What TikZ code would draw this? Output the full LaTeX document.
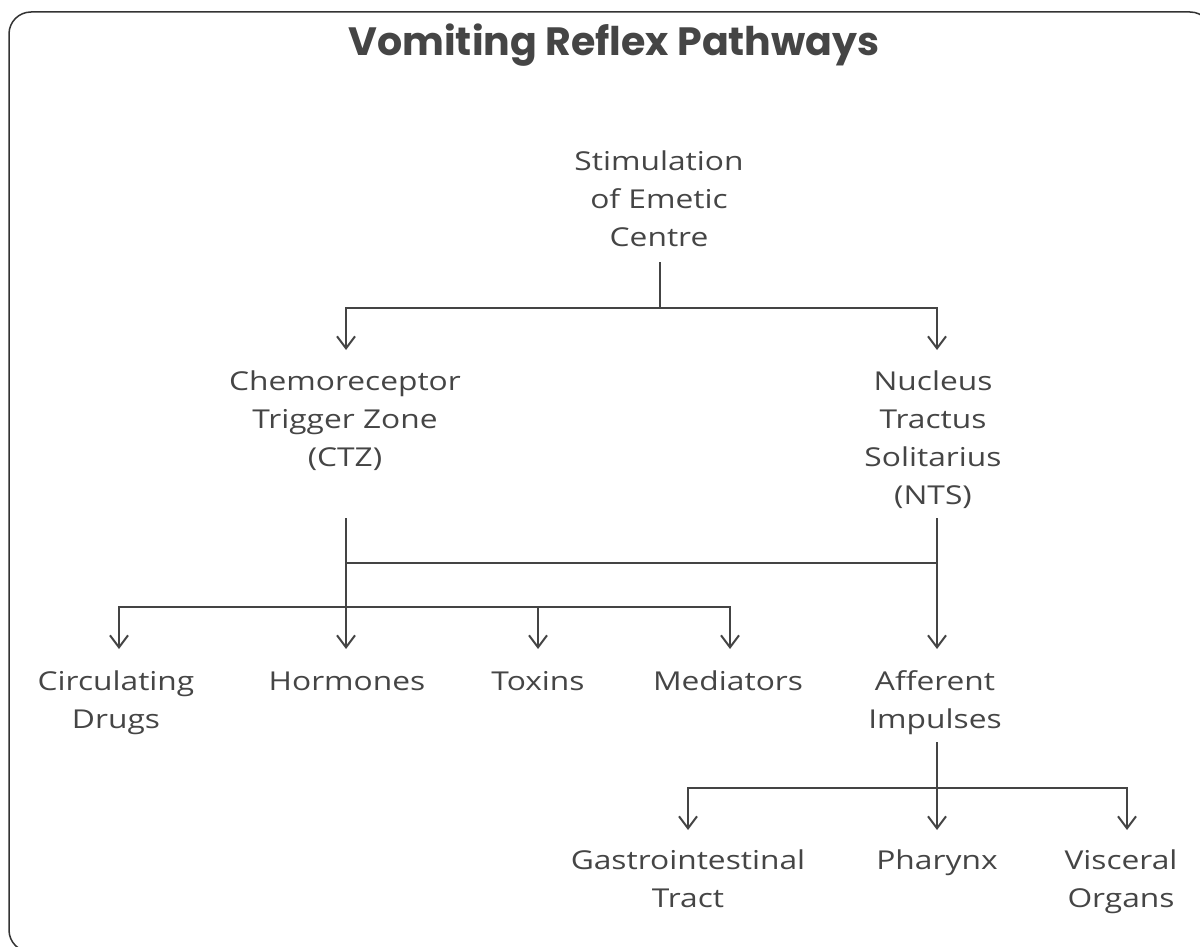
\documentclass[tikz,border=0pt]{standalone}
\usepackage{fontspec}
\setmainfont{Open Sans}[FakeStretch=1.22]
\newfontfamily\titlefont{Poppins}[BoldFont={* Bold}]
\usetikzlibrary{arrows.meta}
\definecolor{ink}{HTML}{454545}
\definecolor{edge}{HTML}{444444}
\newcommand{\lstrut}{\rule{0pt}{27pt}}
\tikzset{
  lbl/.style={anchor=north, align=center, inner sep=0pt, text=ink,
    font=\fontsize{26}{38}\selectfont},
  conn/.style={draw=edge, line width=2pt},
  arr/.style={conn, -{Straight Barb[length=12pt,width=18pt,line width=2pt]}},
}
\begin{document}
\begin{tikzpicture}[x=1pt,y=-1pt]
\useasboundingbox (0,0) rectangle (1200,947);
\clip (0,0) rectangle (1200,947);
\draw[draw=black!80, line width=1.5pt, rounded corners=22pt] (9,12) rectangle (1212,952);

\node[anchor=base, inner sep=0pt, text=ink, font=\titlefont\bfseries\fontsize{39.5}{44}\selectfont] (title) at (614,56) {Vomiting Reflex Pathways};

\node[lbl] (stim) at (659,143) {\lstrut Stimulation\\of Emetic\\Centre};
\node[lbl] (ctz) at (345,363) {\lstrut Chemoreceptor\\Trigger Zone\\(CTZ)};
\node[lbl] (nts) at (933,363) {\lstrut Nucleus\\Tractus\\Solitarius\\(NTS)};
\node[lbl] (circ) at (116,663) {\lstrut Circulating\\Drugs};
\node[lbl] (horm) at (347,663) {\lstrut Hormones};
\node[lbl] (tox) at (538,663) {\lstrut Toxins};
\node[lbl] (med) at (728,663) {\lstrut Mediators};
\node[lbl] (aff) at (935,663) {\lstrut Afferent\\Impulses};
\node[lbl] (gi) at (688,842) {\lstrut Gastrointestinal\\Tract};
\node[lbl] (phar) at (937,842) {\lstrut Pharynx};
\node[lbl] (visc) at (1121,842) {\lstrut Visceral\\Organs};

% connection points
\coordinate (stimB) at (660,262);
\coordinate (ctzT) at (346,350);
\coordinate (ntsT) at (937,350);
\coordinate (ctzB) at (346,518);
\coordinate (ntsB) at (937,518);
\coordinate (circT) at (119,649);
\coordinate (hormT) at (346,649);
\coordinate (toxT) at (538,649);
\coordinate (medT) at (730,649);
\coordinate (affT) at (937,649);
\coordinate (affB) at (937,742);
\coordinate (giT) at (688,830);
\coordinate (pharT) at (937,830);
\coordinate (viscT) at (1127,830);

\draw[arr] (stimB) -- (660,308) -| (ctzT);
\draw[arr] (stimB) -- (660,308) -| (ntsT);

\draw[arr] (ctzB) -- (hormT);
\draw[arr] (ntsB) -- (affT);
\draw[conn] (346,563) -- (937,563);
\draw[arr] (346,607) -| (circT);
\draw[arr] (346,607) -| (toxT);
\draw[arr] (346,607) -| (medT);

\draw[arr] (affB) -- (pharT);
\draw[arr] (937,788) -| (giT);
\draw[arr] (937,788) -| (viscT);
\end{tikzpicture}
\end{document}
